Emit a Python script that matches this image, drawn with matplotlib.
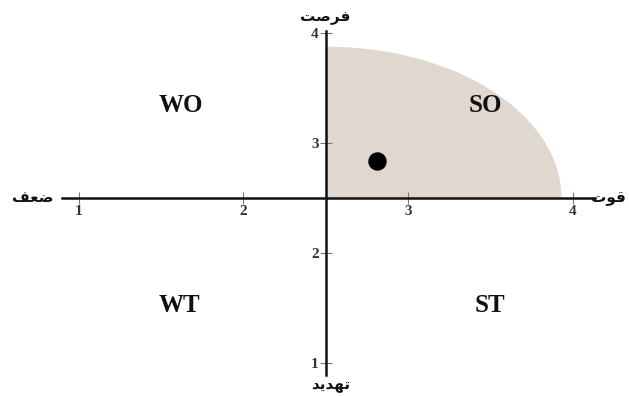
import numpy as np
import matplotlib
matplotlib.use("Agg")
import matplotlib.pyplot as plt

# axis ticks and crossing point
x_ticks = [1, 2, 3, 4]
y_ticks = [1, 2, 3, 4]
cross = 2.5

# quadrant labels
quad_names = ["WO", "SO", "WT", "ST"]
quad_x = [1.62, 3.47, 1.61, 3.50]
quad_y = [3.34, 3.34, 1.52, 1.52]

# strategic position (the black dot)
pos_x = [2.81]
pos_y = [2.84]

# shaded SO region radii
rx, ry = 1.43, 1.38

# Arabic-script axis names written in presentation forms, visual order
lbl_top = "\uFE96\uFEBB\uFEAE\uFED3"          # فرصت
lbl_left = "\uFED2\uFECC\uFEBF"               # ضعف
lbl_right = "\uFE95\uFEEE\uFED7"              # قوت
lbl_bottom = "\uFEAA\uFEF3\uFEAA\uFEEC\uFE97"  # تهدید

fig = plt.figure(figsize=(6.29, 3.96), dpi=100)
ax = fig.add_axes([0, 0, 1, 1])
ax.set_xlim(0.523, 4.342)
ax.set_ylim(0.700, 4.300)

xs = np.linspace(cross, cross + rx, 200)
ys = cross + ry * np.sqrt(np.clip(1 - ((xs - cross) / rx) ** 2, 0, 1))
ax.fill_between(xs, cross, ys, color="#e0d8ce", lw=0, zorder=1)

for sp in ["top", "right"]:
    ax.spines[sp].set_visible(False)
ax.spines["bottom"].set_position(("data", cross))
ax.spines["left"].set_position(("data", cross))
ax.spines["bottom"].set_bounds(0.90, 4.135)
ax.spines["left"].set_bounds(0.89, 4.02)
for sp in ["bottom", "left"]:
    ax.spines[sp].set_linewidth(1.8)
    ax.spines[sp].set_color("#111111")
    ax.spines[sp].set_zorder(3)

ax.set_xticks(x_ticks)
ax.set_yticks(y_ticks)
ax.tick_params(direction="inout", length=8, width=0.8, color="#777777",
               labelsize=11, labelcolor="#333333", pad=1)
for t in ax.get_xticklabels() + ax.get_yticklabels():
    t.set_family("Liberation Serif")
    t.set_fontweight("bold")

ax.scatter(pos_x, pos_y, s=150, color="black", zorder=5)

for name, x, y in zip(quad_names, quad_x, quad_y):
    ax.text(x, y, name, ha="center", va="center", fontsize=18,
            fontweight="bold", family="Liberation Serif", color="#111111")

afont = dict(family="DejaVu Sans", fontweight="bold", fontsize=11, color="#111111")
ax.text(cross, 4.14, lbl_top, ha="center", va="center", **afont)
ax.text(0.72, 2.5, lbl_left, ha="center", va="center", **afont)
ax.text(4.22, 2.5, lbl_right, ha="center", va="center", **afont)
ax.text(2.53, 0.795, lbl_bottom, ha="center", va="center", **afont)

fig.savefig("out.png", dpi=100)
plt.close(fig)
